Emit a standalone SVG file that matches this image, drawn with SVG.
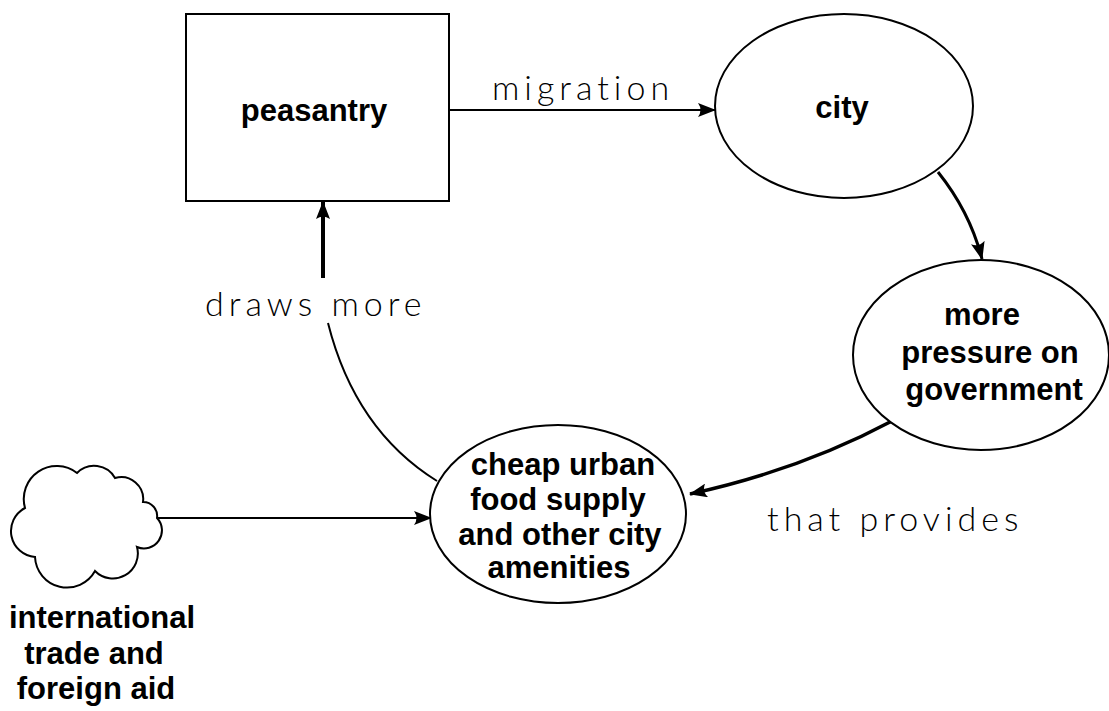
<svg xmlns="http://www.w3.org/2000/svg" width="1109" height="711" viewBox="0 0 1109 711">
<defs>
<style>
.shape{fill:#fff;stroke:#000;stroke-width:2}
.bold{font-family:"Liberation Sans",Arial,sans-serif;font-weight:bold;font-size:31px;fill:#000;text-anchor:middle}
.thin{font-family:"Lato","DejaVu Sans",sans-serif;font-weight:300;font-size:34px;fill:#000;letter-spacing:5px}
.conn{fill:none;stroke:#000}
</style>
<marker id="ah" viewBox="0 0 18 14" refX="17" refY="7" markerWidth="18" markerHeight="14" markerUnits="userSpaceOnUse" orient="auto">
<path d="M0,0 L18,7 L0,14 Q5,7 0,0 Z" fill="#000"/>
</marker>
</defs>
<rect width="1109" height="711" fill="#fff"/>
<g id="connectors">
<path class="conn" d="M449,110 L715,110" stroke-width="2" marker-end="url(#ah)"/>
<path class="conn" d="M938,172 Q970,212 982,259" stroke-width="3" marker-end="url(#ah)"/>
<path class="conn" d="M892,421 Q800,470 690,494" stroke-width="3.5" marker-end="url(#ah)"/>
<path class="conn" d="M158,518 L431,518" stroke-width="2" marker-end="url(#ah)"/>
<path class="conn" d="M328,323 Q355,430 437,481" stroke-width="2"/>
<path class="conn" d="M323,278 L323,202" stroke-width="4" marker-end="url(#ah)"/>
<text class="thin" x="492" y="100">migration</text>
<text class="thin" x="205" y="316">draws more</text>
<text class="thin" x="767" y="531">that provides</text>
</g>
<g id="peasantry">
<rect class="shape" x="186" y="14" width="263" height="187"/>
<text class="bold" x="314" y="121">peasantry</text>
</g>
<g id="city">
<ellipse class="shape" cx="844" cy="106" rx="129" ry="92"/>
<text class="bold" x="842" y="118">city</text>
</g>
<g id="pressure">
<ellipse class="shape" cx="981" cy="355" rx="128" ry="95"/>
<text class="bold" x="982" y="325">more</text>
<text class="bold" x="990" y="363">pressure on</text>
<text class="bold" x="994" y="400">government</text>
</g>
<g id="cheap">
<ellipse class="shape" cx="558" cy="514" rx="128" ry="89"/>
<text class="bold" x="563" y="475">cheap urban</text>
<text class="bold" x="558" y="510">food supply</text>
<text class="bold" x="560" y="545">and other city</text>
<text class="bold" x="559" y="578">amenities</text>
</g>
<g id="trade">
<path class="shape" d="M157,518 A14,14 0 0,0 143,502 A22,22 0 0,0 115,478 A24,24 0 0,0 77,473 A33,33 0 0,0 25,508 A26,26 0 0,0 35,557 A32,32 0 0,0 95,571 A25,25 0 0,0 137,547 A18,18 0 0,0 157,518 Z"/>
<text class="bold" x="102" y="628">international</text>
<text class="bold" x="94" y="664">trade and</text>
<text class="bold" x="96" y="699">foreign aid</text>
</g>
</svg>
